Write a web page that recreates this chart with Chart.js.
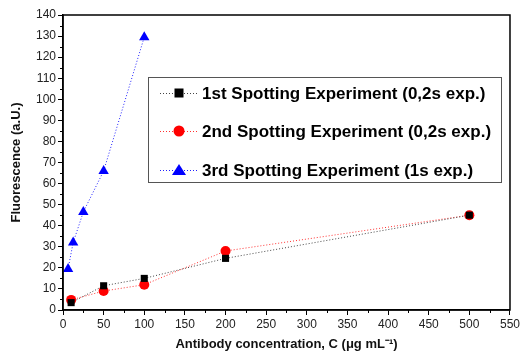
<!DOCTYPE html>
<html>
<head>
<meta charset="utf-8">
<script src="https://cdn.jsdelivr.net/npm/chart.js@4.4.1/dist/chart.umd.min.js"></script>
<style>
  html, body { margin: 0; padding: 0; background: #fff; }
  #wrap { width: 522px; height: 352px; }
</style>
</head>
<body>
<div id="wrap"><canvas id="chart" width="522" height="352"></canvas></div>
<script>
// data
const series1Labels = '1st Spotting Experiment (0,2s exp.)';
const series2Labels = '2nd Spotting Experiment (0,2s exp.)';
const series3Labels = '3rd Spotting Experiment (1s exp.)';

const conc1 = [10, 50, 100, 200, 500];
const fluo1 = [3.5, 11.5, 15, 24.5, 45];

const conc2 = [10, 50, 100, 200, 500];
const fluo2 = [4.8, 9, 12, 28, 45];

const conc3 = [6.25, 12.5, 25, 50, 100];
const fluo3 = [19.5, 32, 46.5, 66, 129.5];

const xTitle = 'Antibody concentration, C (\u03bcg mL\u207b\u00b9)';
const yTitle = 'Fluorescence (a.U.)';

function pts(xs, ys) {
    return xs.map((x, i) => ({ x: x, y: ys[i] }));
}

// frame box + minor ticks
const framePlugin = {
    id: 'frame',
    afterDraw(chart) {
        const ctx = chart.ctx;
        const a = chart.chartArea;
        const xs = chart.scales.x, ys = chart.scales.y;
        ctx.save();
        ctx.strokeStyle = '#000';
        ctx.lineWidth = 1.5;
        ctx.strokeRect(a.left, a.top, a.right - a.left, a.bottom - a.top);
        ctx.lineWidth = 1;
        ctx.beginPath();
        for (let v = 25; v < 550; v += 50) {
            const px = Math.round(xs.getPixelForValue(v)) + 0.5;
            ctx.moveTo(px, a.bottom);
            ctx.lineTo(px, a.bottom + 3);
        }
        for (let v = 5; v < 140; v += 10) {
            const py = Math.round(ys.getPixelForValue(v)) + 0.5;
            ctx.moveTo(a.left, py);
            ctx.lineTo(a.left - 3, py);
        }
        ctx.stroke();
        ctx.restore();
    }
};

// legend box inside plot area
const boxLegend = {
    id: 'boxLegend',
    afterDraw(chart) {
        const ctx = chart.ctx;
        ctx.save();
        ctx.strokeStyle = '#555';
        ctx.lineWidth = 1;
        ctx.fillStyle = '#fff';
        ctx.fillRect(148.5, 77.5, 353, 105);
        ctx.strokeRect(148.5, 77.5, 353, 105);
        const rows = [93, 131, 170];
        chart.data.datasets.forEach((ds, i) => {
            const y = rows[i];
            ctx.strokeStyle = ds.borderColor;
            ctx.lineWidth = 1;
            ctx.setLineDash([1, 2]);
            ctx.beginPath();
            ctx.moveTo(160, y + 0.5);
            ctx.lineTo(197, y + 0.5);
            ctx.stroke();
            ctx.setLineDash([]);
            ctx.fillStyle = ds.pointBackgroundColor;
            ctx.beginPath();
            if (ds.pointStyle === 'rect') {
                ctx.fillRect(174.5, y - 4.5, 9, 9);
            } else if (ds.pointStyle === 'circle') {
                ctx.arc(179, y, 5.5, 0, Math.PI * 2);
                ctx.fill();
            } else {
                ctx.moveTo(179, y - 6);
                ctx.lineTo(186, y + 5);
                ctx.lineTo(172, y + 5);
                ctx.closePath();
                ctx.fill();
            }
            ctx.fillStyle = '#000';
            ctx.font = 'bold 17px Arial, "Liberation Sans", sans-serif';
            ctx.textBaseline = 'middle';
            ctx.fillText(ds.label, 202, y + 1);
        });
        ctx.restore();
    }
};

const ctx = document.getElementById('chart').getContext('2d');
new Chart(ctx, {
    type: 'scatter',
    data: {
        datasets: [{
            label: series1Labels,
            data: pts(conc1, fluo1),
            showLine: true,
            borderColor: '#444',
            borderWidth: 1,
            borderDash: [1, 2],
            pointStyle: 'rect',
            pointRadius: 5,
            pointBackgroundColor: '#000',
            pointBorderColor: '#000',
            pointBorderWidth: 0
        }, {
            label: series2Labels,
            data: pts(conc2, fluo2),
            showLine: true,
            borderColor: '#ff3030',
            borderWidth: 1,
            borderDash: [1, 2],
            pointStyle: 'circle',
            pointRadius: 5,
            pointBackgroundColor: '#ff0000',
            pointBorderColor: '#ff0000',
            pointBorderWidth: 0
        }, {
            label: series3Labels,
            data: pts(conc3, fluo3),
            showLine: true,
            borderColor: '#2020ff',
            borderWidth: 1,
            borderDash: [1, 2],
            pointStyle: 'triangle',
            pointRadius: 6,
            pointBackgroundColor: '#0000ff',
            pointBorderColor: '#0000ff',
            pointBorderWidth: 0
        }]
    },
    options: {
        responsive: false,
        animation: false,
        layout: { padding: { left: 0, right: 10, top: 15, bottom: 0 } },
        plugins: {
            legend: { display: false },
            tooltip: { enabled: false }
        },
        scales: {
            x: {
                type: 'linear',
                min: 0,
                max: 550,
                ticks: {
                    stepSize: 50,
                    color: '#222',
                    font: { family: 'Arial, "Liberation Sans", sans-serif', size: 12 },
                    padding: 2,
                    maxRotation: 0
                },
                grid: { drawOnChartArea: false, tickLength: 5, color: '#000', tickWidth: 1 },
                border: { color: '#000', width: 1.5 },
                title: {
                    display: true,
                    text: xTitle,
                    color: '#111',
                    font: { family: 'Arial, "Liberation Sans", sans-serif', size: 13, weight: 'bold' },
                    padding: { top: 4, bottom: 0 }
                },
                afterFit(scale) { scale.height = 42; }
            },
            y: {
                type: 'linear',
                min: 0,
                max: 140,
                ticks: {
                    stepSize: 10,
                    color: '#222',
                    font: { family: 'Arial, "Liberation Sans", sans-serif', size: 12 },
                    padding: 2
                },
                grid: { drawOnChartArea: false, tickLength: 5, color: '#000', tickWidth: 1 },
                border: { color: '#000', width: 1.5 },
                title: {
                    display: true,
                    text: yTitle,
                    color: '#111',
                    font: { family: 'Arial, "Liberation Sans", sans-serif', size: 13, weight: 'bold' },
                    padding: { top: 9, bottom: 4 }
                },
                afterFit(scale) { scale.width = 63; }
            }
        }
    },
    plugins: [framePlugin, boxLegend]
});
</script>
</body>
</html>
